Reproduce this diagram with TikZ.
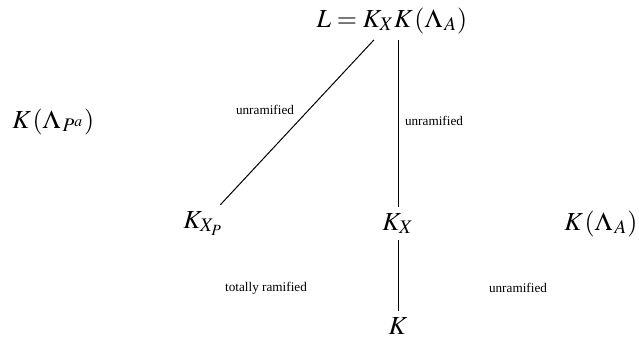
\documentclass[tikz,border=0pt]{standalone}
\usepackage{mathptmx}
\usepackage[no-math]{fontspec}
\setmainfont{Liberation Serif}
\usetikzlibrary{positioning}

\begin{document}
\begin{tikzpicture}[
    x=0.5pt, y=-0.5pt,
    field/.style={font=\fontsize{13}{15}\selectfont, inner sep=3pt},
    ext/.style={font=\fontsize{6.6}{8}\selectfont, inner sep=1pt},
    link/.style={line width=0.5pt},
  ]
  \useasboundingbox (0,0) rectangle (639,339);

  % fields of the tower
  \node[field, anchor=base] (L) at (392,27) {$L = K_X K\mkern1mu(\Lambda_{\,A})$};
  \node[field, anchor=base west] (KLP) at (6,128) {$K\mkern1mu(\Lambda_{\,P^a})$};
  \node[field, anchor=base west] (KXP) at (177,228) {$K_{X_P}$};
  \node[field, anchor=base] (KX) at (398,230) {$K_X$};
  \node[field, anchor=base west] (KLA) at (558,230) {$K\mkern1mu(\Lambda_{\,A})$};
  \node[field, anchor=base] (K) at (398,334) {$K$};

  % extensions
  \draw[link] (L) -- (KXP);
  \draw[link] (KX) -- (KX |- L.south);
  \draw[link] (KX) -- (KX |- K.north);

  % ramification labels
  \node[ext] (u1) at (265,110) {unramified};
  \node[ext] (u2) at (434,121) {unramified};
  \node[ext] (t1) at (266,288) {totally ramified};
  \node[ext] (u3) at (518,288) {unramified};
\end{tikzpicture}
\end{document}
